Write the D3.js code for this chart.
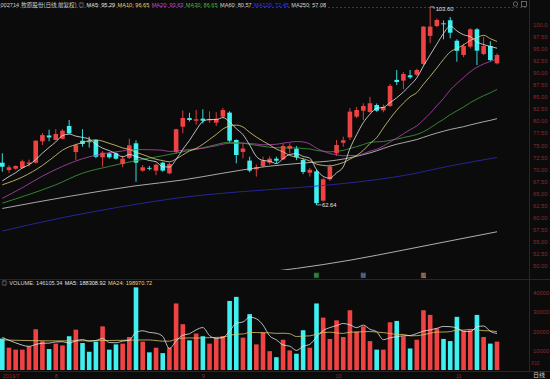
<!DOCTYPE html>
<html><head><meta charset="utf-8">
<script src="https://cdn.jsdelivr.net/npm/d3@7"></script>
<style>
html,body{margin:0;padding:0;background:#0b0b0b;overflow:hidden}
svg{display:block}
text{font-family:"Liberation Sans",Arial,"Noto Sans CJK SC",sans-serif}
</style></head><body>
<svg id="c" width="550" height="379"></svg>
<script>
// ---------- DATA ----------
const stockTitle = "002714 牧原股份(日线 前复权)";
const opens = [71.37,69.86,70.13,70.27,71.10,71.37,75.80,77.00,76.07,76.33,
78.96,73.58,75.92,75.80,76.07,72.49,73.31,73.31,71.10,72.34,
75.38,69.73,70.30,69.73,71.37,69.17,73.60,78.82,80.60,80.06,
80.48,80.10,79.65,80.89,81.73,76.07,73.60,71.80,70.00,70.69,
71.37,72.20,72.07,74.27,74.27,71.93,69.30,69.58,63.52,67.94,
73.31,75.50,76.60,80.89,82.13,81.86,83.30,82.20,83.10,88.50,
88.34,89.44,89.58,91.81,97.60,99.65,100.20,100.84,96.60,93.65,
95.38,98.96,93.86,95.51,91.93];
const highs = [73.31,70.83,70.80,72.00,72.00,76.00,77.50,78.20,78.30,78.30,
80.20,75.30,78.30,76.75,76.20,73.80,73.60,73.50,72.80,76.33,
76.00,70.90,70.70,71.20,71.60,71.40,78.40,82.14,81.70,82.27,
82.41,82.00,81.80,82.70,82.00,76.20,75.38,72.61,71.00,72.61,
72.70,72.60,75.30,75.40,74.80,72.30,70.30,69.90,68.30,71.00,
76.07,76.75,82.70,82.90,83.66,85.00,83.60,83.40,87.65,90.55,
90.10,90.55,90.80,99.60,103.60,101.20,100.80,101.50,96.90,96.00,
99.20,99.20,97.40,96.50,94.00];
const lows = [69.50,69.30,69.90,70.10,70.60,71.20,75.00,75.80,76.00,76.20,
77.30,71.93,74.68,74.50,72.30,70.55,72.20,72.00,70.42,72.10,
67.44,69.50,69.80,68.80,69.50,69.00,73.20,77.45,79.90,79.23,
79.50,79.60,79.00,80.60,75.50,71.24,72.28,69.40,68.49,70.40,
71.00,71.20,71.90,73.31,71.90,69.00,68.50,62.64,63.30,67.60,
72.80,74.68,76.07,80.60,80.20,81.60,81.90,81.80,82.90,87.44,
86.55,88.70,89.30,91.50,96.07,99.40,96.90,97.10,92.26,93.20,
95.00,91.58,93.60,92.35,91.70];
const closes = [70.54,70.42,70.69,71.66,71.40,75.92,77.08,76.60,77.30,77.99,
77.45,75.00,75.24,75.60,72.60,73.44,72.49,72.20,72.20,74.97,
71.37,70.42,70.15,70.96,69.73,71.10,78.28,80.62,80.20,80.35,
80.06,80.35,80.48,82.27,75.92,72.96,74.30,69.73,70.42,71.78,
72.20,71.78,74.82,74.82,72.49,69.45,69.90,63.00,67.94,70.55,
75.03,76.00,81.94,82.27,83.10,83.66,82.13,82.90,87.24,88.06,
89.72,89.03,90.55,99.53,99.53,100.90,100.00,98.26,94.50,95.51,
98.96,94.55,95.51,92.60,93.65];
const volumes = [162000,115000,105000,105000,122000,210000,148000,108000,136000,127000,
174000,208000,139000,94000,146000,225000,105000,132000,136000,170000,
426000,146000,91000,115000,87000,115000,343000,236000,153000,188000,
174000,136000,163000,174000,356000,377000,167000,288000,132000,194000,
97000,66000,156000,101000,84000,205000,115000,343000,270000,160000,
256000,170000,308000,198000,225000,149000,105000,105000,246000,253000,
174000,111000,156000,308000,284000,215000,160000,149000,274000,201000,
205000,284000,170000,136000,146105];

const ma5Lead  = [[0,67.6],[1,68.5],[2,69.3],[3,70.3]];
const ma10Lead = [[0,66.8],[3,68.4],[6,70.8],[8,72.9]];
const ma20Lead = [[0,64.0],[3,66.2],[6,68.6],[9,70.6],[12,72.2],[15,73.2],[18,73.8]];
const ma30Lead = [[0,63.0],[4,64.8],[8,66.8],[12,69.2],[16,70.6],[20,71.8],[24,72.8],[28,73.9]];
const ma60Lead = [[0,61.9],[10,64.4],[20,66.6],[27,67.8],[33,69.2],[39,70.5],[45,71.3],[50,71.9],[55,73.4]];
const ma120Read = [[0,57.24],[9,60.0],[18,62.3],[27,64.2],[36,65.4],[45,66.3],[52,67.2],[60,68.7],[67,70.7],[74,72.45]];
const ma250Read = [[40,48.8],[44,49.5],[52,51.2],[60,53.3],[67,55.2],[74,57.08]];
const vma5Lead  = [[0,168000],[2,140000]];
const vma24Lead = [[0,155000],[8,150000],[16,152000],[22,155000]];

const titleMA = [
  {label:"MA5: 95.29",  color:"#e8e8e8"},
  {label:"MA10: 96.65", color:"#e6d676"},
  {label:"MA20: 93.63", color:"#d048d0"},
  {label:"MA30: 86.65", color:"#48b848"},
  {label:"MA60: 80.57", color:"#d8d8d8"},
  {label:"MA120: 72.45",color:"#3434ff"},
  {label:"MA250: 57.08",color:"#d8d8d8"}
];
const volTitle = [
  {label:"VOLUME: 146105.34", color:"#d8d8d8"},
  {label:"MA5: 188308.92",    color:"#e8e8e8"},
  {label:"MA24: 198970.72",   color:"#e6d676"}
];
const priceTicks = d3.range(50, 100.01, 2.5);
const volTicks = [100000,200000,300000,400000];
const monthLabels = ["2019/7","8","9","10","11"];
const monthIdx = [0,8,30,50,68];
const eventIdx = [47,54,63];
const eventText = ["解","财","股"];
const eventColor = ["#3fae4f","#6f95c8","#d39a6a"];
const highLabel = "103.60", lowLabel = "62.64";

// ---------- LAYOUT ----------
const W = 550, H = 379;
const UP = "#ef4343", DOWN = "#3ff0f0", AXIS = "#8c2a2a", LINE = "#4e1616";
const svg = d3.select("#c");
svg.append("rect").attr("width",W).attr("height",H).attr("fill","#0b0b0b");

const n = closes.length;
const x = d3.scaleLinear().domain([0, n-1]).range([2.3, 497]);
const yP = d3.scaleLinear().domain([50, 100]).range([266, 24.3]);
const yV = d3.scaleLinear().domain([0, 400000]).range([370, 292.4]);
const bw = 4.6;

const defs = svg.append("defs");
defs.append("clipPath").attr("id","cp").append("rect").attr("x",0).attr("y",0).attr("width",528).attr("height",270);
defs.append("clipPath").attr("id","cv").append("rect").attr("x",0).attr("y",286).attr("width",528).attr("height",85);

// frame lines
svg.append("line").attr("x1",529.5).attr("x2",529.5).attr("y1",0).attr("y2",372).attr("stroke",LINE);
svg.append("line").attr("x1",0).attr("x2",W).attr("y1",279.5).attr("y2",279.5).attr("stroke",LINE);
svg.append("line").attr("x1",0).attr("x2",W).attr("y1",371.5).attr("y2",371.5).attr("stroke",LINE);
// dashed line at the high
svg.append("line").attr("x1",0).attr("x2",528).attr("y1",Math.round(yP(103.6))+0.5).attr("y2",Math.round(yP(103.6))+0.5)
  .attr("stroke","#3a3a3a").attr("stroke-dasharray","2,2");

function rolling(vals, k, lead) {
  const pts = lead.map(([i,v]) => ({i, v}));
  for (let i = k-1; i < vals.length; i++) pts.push({i, v: d3.mean(vals.slice(i-k+1, i+1))});
  return pts;
}
const asPts = arr => arr.map(([i,v]) => ({i,v}));

const gP = svg.append("g").attr("clip-path","url(#cp)");
// candles
const data = d3.range(n).map(i => ({i, o:opens[i], h:highs[i], l:lows[i], c:closes[i], v:volumes[i]}));
const col = d => d.c >= d.o ? UP : DOWN;
gP.selectAll("line.w").data(data).join("line").attr("class","w")
  .attr("x1", d => x(d.i)).attr("x2", d => x(d.i))
  .attr("y1", d => yP(d.h)).attr("y2", d => yP(d.l))
  .attr("stroke", col).attr("stroke-width", 0.9);
gP.selectAll("rect.b").data(data).join("rect").attr("class","b")
  .attr("x", d => x(d.i) - bw/2).attr("width", bw)
  .attr("y", d => yP(Math.max(d.o, d.c)))
  .attr("height", d => Math.max(0.9, Math.abs(yP(d.o) - yP(d.c))))
  .attr("fill", col);

// MA lines
const lineP = d3.line().x(d => x(d.i)).y(d => yP(d.v)).curve(d3.curveMonotoneX);
const maSeries = [
  {pts: asPts(ma250Read), color:"#d8d8d8"},
  {pts: asPts(ma120Read), color:"#2b2bb8"},
  {pts: rolling(closes,60,ma60Lead), color:"#cfcfcf"},
  {pts: rolling(closes,30,ma30Lead), color:"#3f9f3f"},
  {pts: rolling(closes,20,ma20Lead), color:"#b447b4"},
  {pts: rolling(closes,10,ma10Lead), color:"#e0d27a"},
  {pts: rolling(closes,5,ma5Lead),   color:"#e8e8e8"}
];
gP.selectAll("path.ma").data(maSeries).join("path").attr("class","ma")
  .attr("d", d => lineP(d.pts)).attr("fill","none")
  .attr("stroke", d => d.color).attr("stroke-width", 0.8);

// high / low markers
const hi = 64, lo = 47;
svg.append("path").attr("d", `M${x(hi)},${yP(103.6)}h4v2`).attr("stroke","#ddd").attr("fill","none").attr("stroke-width",0.7);
svg.append("text").attr("x", x(hi)+5.5).attr("y", yP(103.6)+4.5).attr("fill","#e0e0e0").attr("font-size",5.8).text(highLabel);
svg.append("line").attr("x1", x(lo)).attr("x2", x(lo)+5).attr("y1", yP(62.64)).attr("y2", yP(62.64)).attr("stroke","#ddd").attr("stroke-width",0.7);
svg.append("text").attr("x", x(lo)+5.5).attr("y", yP(62.64)+2).attr("fill","#e0e0e0").attr("font-size",5.8).text(lowLabel);

// event markers
eventIdx.forEach((ei, k) => {
  svg.append("rect").attr("x", x(ei)-2.6).attr("y",272.5).attr("width",5.2).attr("height",5.5)
    .attr("fill", eventColor[k]).attr("opacity",0.35);
  svg.append("text").attr("x", x(ei)).attr("y",277.3).attr("text-anchor","middle")
    .attr("font-size",5).attr("fill", eventColor[k]).text(eventText[k]);
});

// volume bars
const gV = svg.append("g").attr("clip-path","url(#cv)");
gV.selectAll("rect.v").data(data).join("rect").attr("class","v")
  .attr("x", d => x(d.i) - bw/2).attr("width", bw)
  .attr("y", d => yV(d.v)).attr("height", d => yV(0) - yV(d.v))
  .attr("fill", col);
const lineV = d3.line().x(d => x(d.i)).y(d => yV(d.v)).curve(d3.curveMonotoneX);
gV.selectAll("path.vma").data([
  {pts: rolling(volumes,24,vma24Lead), color:"#d8c468"},
  {pts: rolling(volumes,5,vma5Lead), color:"#e6e6e6"}
]).join("path").attr("class","vma")
  .attr("d", d => lineV(d.pts)).attr("fill","none")
  .attr("stroke", d => d.color).attr("stroke-width", 0.8);

// axes
const axP = d3.axisRight(yP).tickValues(priceTicks).tickSize(0).tickPadding(4)
  .tickFormat(v => v >= 100 ? v.toFixed(1) : v.toFixed(2));
const gAP = svg.append("g").attr("transform","translate(529,0)").call(axP);
gAP.select(".domain").remove();
gAP.selectAll("text").attr("fill",AXIS).attr("font-size",5.8).attr("font-family","Liberation Sans, Arial, sans-serif");
const axV = d3.axisRight(yV).tickValues(volTicks).tickSize(0).tickPadding(4).tickFormat(v => d3.format("d")(v/10));
const gAV = svg.append("g").attr("transform","translate(529,0)").call(axV);
gAV.select(".domain").remove();
gAV.selectAll("text").attr("fill",AXIS).attr("font-size",5.8).attr("font-family","Liberation Sans, Arial, sans-serif");
svg.append("text").attr("x",531).attr("y",365).attr("fill",AXIS).attr("font-size",4.8).text("X10");

// month labels
svg.selectAll("text.m").data(monthIdx).join("text").attr("class","m")
  .attr("x", (d,k) => x(d) + (k === 0 ? 0.5 : -1)).attr("y",377.5)
  .attr("fill",AXIS).attr("font-size",5.5).text((d,k) => monthLabels[k]);
svg.append("text").attr("x",533).attr("y",377).attr("fill","#cfcfcf").attr("font-size",6)
  .attr("font-family","Noto Sans CJK SC").text("日线");

// title row
const t = svg.append("text").attr("x",0.5).attr("y",7).attr("font-size",5.6);
t.append("tspan").attr("fill","#d0d0d0").text(stockTitle.split(" ")[0]);
t.append("tspan").attr("dx",2).attr("fill","#d0d0d0").attr("font-family","Noto Sans CJK SC").text(stockTitle.slice(7));
t.append("tspan").attr("dx",2).attr("fill","#bbbbbb").text("◎");
titleMA.forEach(m => t.append("tspan").attr("dx",2.4).attr("fill",m.color).text(m.label));

// volume title
const tv = svg.append("text").attr("x",1.5).attr("y",285).attr("font-size",5.6);
tv.append("tspan").attr("fill","#bbbbbb").text("◎");
volTitle.forEach(m => tv.append("tspan").attr("dx",2.2).attr("fill",m.color).text(m.label));

// top-right icons
svg.append("circle").attr("cx",515.5).attr("cy",4).attr("r",2.2).attr("fill","none").attr("stroke","#888").attr("stroke-width",0.7);
svg.append("rect").attr("x",521.5).attr("y",1.5).attr("width",5).attr("height",5).attr("fill","none").attr("stroke","#888").attr("stroke-width",0.7);
</script>
</body></html>
